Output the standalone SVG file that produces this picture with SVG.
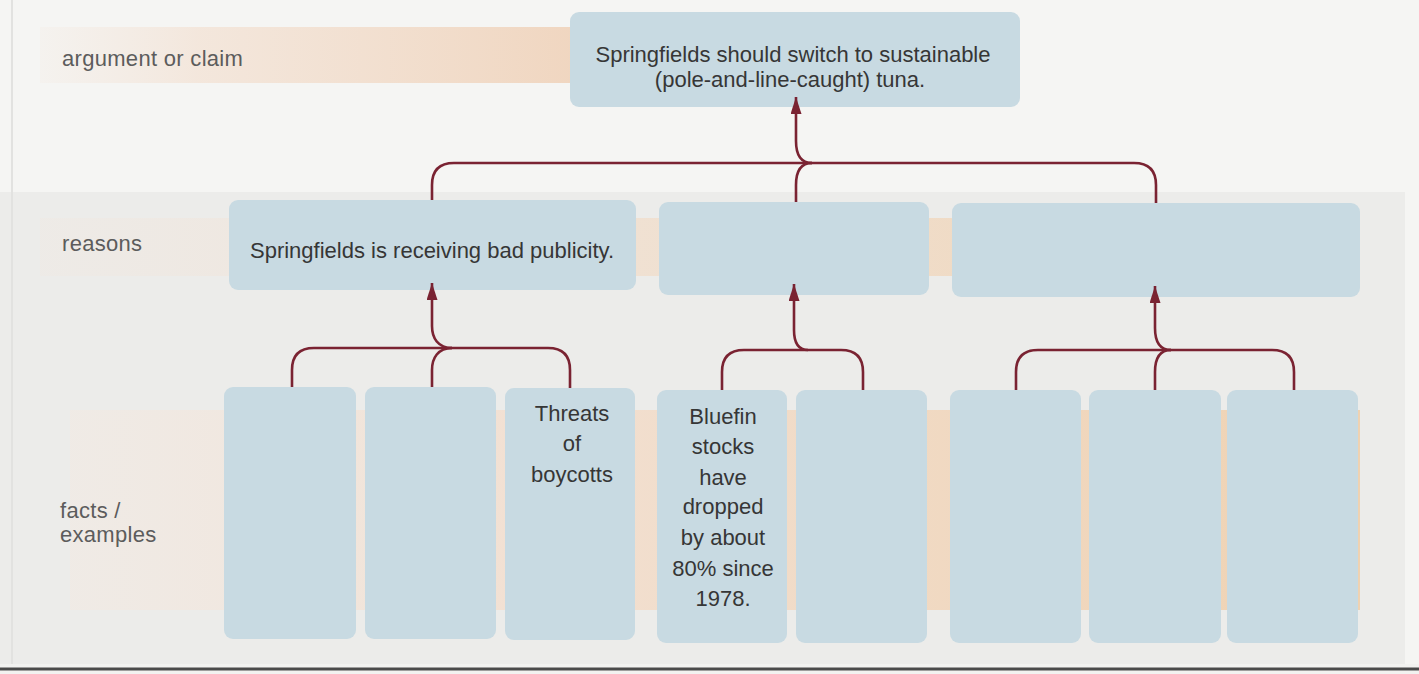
<svg xmlns="http://www.w3.org/2000/svg" width="1419" height="674" viewBox="0 0 1419 674">
  <defs>
    <style>
      .box { fill: #c8dae2; }
      .label { font-family: "Liberation Sans", Arial, sans-serif; font-size: 22px; letter-spacing: 0.3px; fill: #5c5c5c; }
      .hand { font-family: "Liberation Sans", Arial, sans-serif; font-size: 22px; fill: #363636; text-anchor: middle; }
      .conn { fill: none; stroke: #7a2332; stroke-width: 2.6; stroke-linecap: butt; }
      .arrow { marker-end: url(#ah); }
    </style>
    <marker id="ah" viewBox="0 0 17 11" refX="17" refY="5.5" markerWidth="17" markerHeight="11" markerUnits="userSpaceOnUse" orient="auto">
      <path d="M0,0 L17,5.5 L0,11 z" fill="#7a2332"/>
    </marker>
    <linearGradient id="bandTop" x1="0" y1="0" x2="1" y2="0">
      <stop offset="0" stop-color="#f3e6dc" stop-opacity="0.2"/>
      <stop offset="0.3" stop-color="#f3e3d6" stop-opacity="0.8"/>
      <stop offset="1" stop-color="#f0d6c0"/>
    </linearGradient>
    <linearGradient id="bandMid" x1="0" y1="0" x2="1" y2="0">
      <stop offset="0" stop-color="#f1e7df" stop-opacity="0.3"/>
      <stop offset="0.3" stop-color="#f1e2d5" stop-opacity="0.8"/>
      <stop offset="1" stop-color="#efd3b4"/>
    </linearGradient>
    <linearGradient id="bandLow" x1="0" y1="0" x2="1" y2="0">
      <stop offset="0" stop-color="#f3e9e1" stop-opacity="0.5"/>
      <stop offset="0.35" stop-color="#f2e0d2"/>
      <stop offset="1" stop-color="#efd2b2"/>
    </linearGradient>
  </defs>

  <!-- background -->
  <rect x="0" y="0" width="1419" height="674" fill="#f5f5f3"/>
  <rect x="0" y="192" width="1405" height="472" fill="#ececea"/>
  <line x1="12" y1="0" x2="12" y2="664" stroke="#e2e2e0" stroke-width="2"/>
  <rect x="0" y="664" width="1419" height="10" fill="#f2f2f0"/>
  <line x1="0" y1="669" x2="1419" y2="669" stroke="#4a4a4a" stroke-width="3"/>

  <!-- row bands -->
  <g id="bands">
    <rect x="40" y="27" width="535" height="56" fill="url(#bandTop)"/>
    <rect x="40" y="218" width="1320" height="58" fill="url(#bandMid)"/>
    <rect x="70" y="410" width="1290" height="200" fill="url(#bandLow)"/>
  </g>

  <!-- row labels -->
  <g id="row-labels">
    <text class="label" x="62" y="66">argument or claim</text>
    <text class="label" x="62" y="251">reasons</text>
    <text class="label" x="60" y="518">facts /</text>
    <text class="label" x="60" y="542">examples</text>
  </g>

  <!-- claim -->
  <g id="claim">
    <rect class="box" x="570" y="12" width="450" height="95" rx="9"/>
    <text class="hand" x="793" y="62">Springfields should switch to sustainable</text>
    <text class="hand" x="790" y="87">(pole-and-line-caught) tuna.</text>
  </g>

  <!-- reasons -->
  <g id="reason-1">
    <rect class="box" x="229" y="200" width="407" height="90" rx="9"/>
    <text class="hand" x="432" y="258">Springfields is receiving bad publicity.</text>
  </g>
  <g id="reason-2">
    <rect class="box" x="659" y="202" width="270" height="93" rx="9"/>
  </g>
  <g id="reason-3">
    <rect class="box" x="952" y="203" width="408" height="94" rx="9"/>
  </g>

  <!-- facts / examples -->
  <g id="fact-1"><rect class="box" x="224" y="387" width="132" height="252" rx="9"/></g>
  <g id="fact-2"><rect class="box" x="365" y="387" width="131" height="252" rx="9"/></g>
  <g id="fact-3">
    <rect class="box" x="505" y="388" width="130" height="252" rx="9"/>
    <text class="hand" x="572" y="421">Threats</text>
    <text class="hand" x="572" y="451">of</text>
    <text class="hand" x="572" y="482">boycotts</text>
  </g>
  <g id="fact-4">
    <rect class="box" x="657" y="390" width="130" height="253" rx="9"/>
    <text class="hand" x="723" y="424">Bluefin</text>
    <text class="hand" x="723" y="454">stocks</text>
    <text class="hand" x="723" y="485">have</text>
    <text class="hand" x="723" y="514">dropped</text>
    <text class="hand" x="723" y="545">by about</text>
    <text class="hand" x="723" y="576">80% since</text>
    <text class="hand" x="723" y="606">1978.</text>
  </g>
  <g id="fact-5"><rect class="box" x="796" y="390" width="131" height="253" rx="9"/></g>
  <g id="fact-6"><rect class="box" x="950" y="390" width="131" height="253" rx="9"/></g>
  <g id="fact-7"><rect class="box" x="1089" y="390" width="132" height="253" rx="9"/></g>
  <g id="fact-8"><rect class="box" x="1227" y="390" width="131" height="253" rx="9"/></g>

  <!-- connectors -->
  <g id="connectors">
    <!-- reasons to claim -->
    <path class="conn" d="M432,200 L432,185 Q432,163 454,163 L1134,163 Q1156,163 1156,185 L1156,203"/>
    <path class="conn" d="M812,163 C800,163 796,172 796,185 L796,202"/>
    <path class="conn arrow" d="M812,163 C800,163 796,154 796,141 L796,97"/>

    <!-- facts to reason 1 -->
    <path class="conn" d="M292,387 L292,370 Q292,348 314,348 L548,348 Q570,348 570,370 L570,388"/>
    <path class="conn" d="M452,348 C438,348 432,358 432,370 L432,387"/>
    <path class="conn arrow" d="M452,348 C438,348 432,338 432,326 L432,283"/>

    <!-- facts to reason 2 -->
    <path class="conn" d="M722,390 L722,372 Q722,350 744,350 L841,350 Q863,350 863,372 L863,390"/>
    <path class="conn arrow" d="M808,350 C798,350 794,342 794,330 L794,284"/>

    <!-- facts to reason 3 -->
    <path class="conn" d="M1016,390 L1016,372 Q1016,350 1038,350 L1272,350 Q1294,350 1294,372 L1294,390"/>
    <path class="conn" d="M1171,350 C1159,350 1155,360 1155,372 L1155,390"/>
    <path class="conn arrow" d="M1171,350 C1159,350 1155,340 1155,328 L1155,286"/>
  </g>
</svg>
